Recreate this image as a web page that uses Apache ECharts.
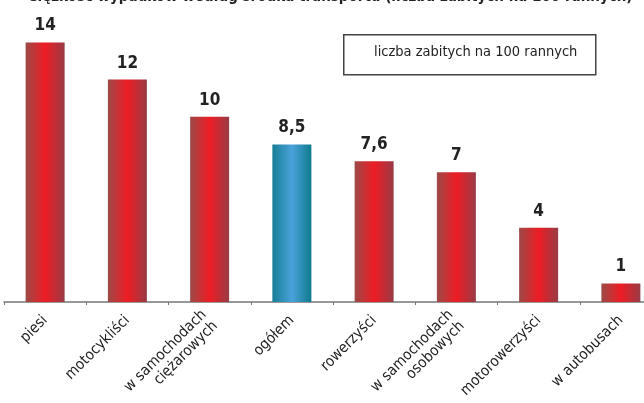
<!DOCTYPE html>
<html>
<head>
<meta charset="utf-8">
<script src="https://cdn.jsdelivr.net/npm/echarts@6/dist/echarts.min.js"></script>
<style>
  html, body { margin: 0; padding: 0; background: #fff; }
  #chart { width: 644px; height: 403px; }
</style>
</head>
<body>
<div id="chart"></div>
<script>
// data
const categories = ['piesi', 'motocykliści', 'w samochodach\nciężarowych', 'ogółem', 'rowerzyści', 'w samochodach\nosobowych', 'motorowerzyści', 'w autobusach'];
const values = [14, 12, 10, 8.5, 7.6, 7, 4, 1];
const valueLabels = ['14', '12', '10', '8,5', '7,6', '7', '4', '1'];
const highlightIndex = 3; // "ogółem" drawn in blue
const legendText = 'liczba zabitych na 100 rannych';
const titleText = 'Ciężkość wypadków według środka transportu (liczba zabitych na 100 rannych)';

const FONT = "'DejaVu Sans Condensed', 'Liberation Sans Narrow', sans-serif";

const redGrad = new echarts.graphic.LinearGradient(0, 0, 1, 0, [
  { offset: 0, color: '#9c4a47' },
  { offset: 0.5, color: '#ee1c25' },
  { offset: 1, color: '#983c45' }
]);
const blueGrad = new echarts.graphic.LinearGradient(0, 0, 1, 0, [
  { offset: 0, color: '#177e95' },
  { offset: 0.5, color: '#4aa2da' },
  { offset: 1, color: '#0f7b8e' }
]);

const chart = echarts.init(document.getElementById('chart'));

const option = {
  animation: false,
  // plot area runs past the right edge, like the cropped original
  grid: { left: 4, top: 24, width: 658, height: 278, containLabel: false, outerBoundsMode: 'none' },
  xAxis: {
    type: 'category',
    data: categories,
    axisLine: { lineStyle: { color: '#777', width: 1.5 } },
    axisTick: { show: true, length: 3, lineStyle: { color: '#777' } },
    axisLabel: {
      rotate: 45,
      margin: 16,
      interval: 0,
      fontFamily: FONT,
      fontSize: 15,
      color: '#222',
      lineHeight: 16,
      align: 'right'
    }
  },
  yAxis: { type: 'value', min: 0, max: 15, show: false, splitLine: { show: false } },
  series: [{
    type: 'bar',
    barWidth: 39,
    data: values.map((v, i) => ({
      value: v,
      itemStyle: { color: i === highlightIndex ? blueGrad : redGrad }
    })),
    label: {
      show: true,
      position: 'top',
      distance: 8,
      fontFamily: FONT,
      fontSize: 17,
      fontWeight: 'bold',
      color: '#222',
      formatter: p => valueLabels[p.dataIndex]
    }
  }],
  graphic: [
    {
      // title, clipped by the top edge as in the source image
      type: 'text',
      x: 330, y: 5,
      style: {
        text: titleText, fontFamily: FONT, fontSize: 15, fontWeight: 'bold', fill: '#222',
        align: 'center', verticalAlign: 'bottom'
      }
    },
    {
      type: 'rect',
      left: 343, top: 34,
      shape: { width: 252, height: 40 },
      style: { fill: '#fff', stroke: '#444', lineWidth: 1.5 }
    },
    {
      type: 'text',
      left: 374, top: 45,
      style: { text: legendText, fontFamily: FONT, fontSize: 14.5, fill: '#222' }
    }
  ]
};

chart.setOption(option);
</script>
</body>
</html>
